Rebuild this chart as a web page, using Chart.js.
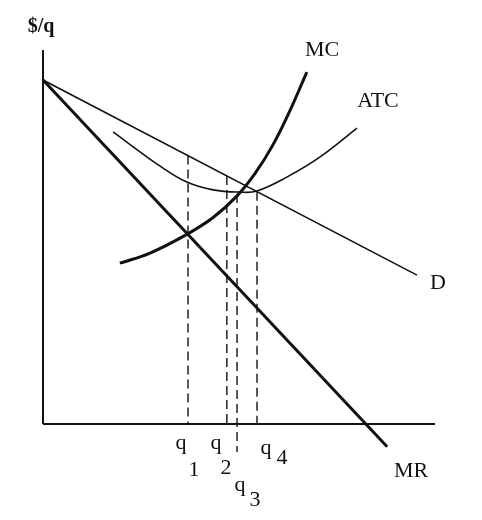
<!DOCTYPE html>
<html>
<head>
<meta charset="utf-8">
<script src="https://cdn.jsdelivr.net/npm/chart.js@4/dist/chart.umd.min.js"></script>
<style>
  html, body { margin: 0; padding: 0; background: #ffffff; }
  #wrap { width: 482px; height: 520px; }
</style>
</head>
<body>
<div id="wrap"><canvas id="chart" width="482" height="520"></canvas></div>
<script>
// Values (quantity on x, $/q on y, both 0..10)
const demandX = [0, 9.54]
const demandY = [9.20, 3.98]

const mrX = [0, 8.78]
const mrY = [9.20, -0.61]

const mcX = [1.96, 2.73, 3.67, 4.34, 4.95, 5.41, 5.87, 6.30, 6.73]
const mcY = [4.30, 4.57, 5.07, 5.52, 6.10, 6.70, 7.47, 8.38, 9.41]

const atcX = [1.79, 2.30, 2.98, 3.67, 4.34, 5.03, 5.46, 6.22, 7.07, 8.01]
const atcY = [7.81, 7.41, 6.90, 6.47, 6.26, 6.20, 6.23, 6.60, 7.14, 7.91]

// dashed guides: q1, q2, q3, q4
const guideX = [3.70, 4.69, 4.95, 5.46]
const guideTop = [7.18, 6.63, 6.15, 6.21]
const guideBottom = [0, 0, -0.75, 0]

const axisMax = 10

const toPoints = (xs, ys) => xs.map((x, i) => ({ x: x, y: ys[i] }))

const lineSet = (data, width, extra) => Object.assign({
  data: data,
  borderColor: "#111111",
  borderWidth: width,
  pointRadius: 0,
  fill: false,
  showLine: true,
  clip: false,
}, extra || {})

const datasets = [
  // axes
  lineSet([{ x: 0, y: 0 }, { x: 0, y: axisMax }], 2),
  lineSet([{ x: 0, y: 0 }, { x: axisMax, y: 0 }], 2),
  lineSet(toPoints(demandX, demandY), 1.6),
  lineSet(toPoints(mrX, mrY), 3),
  lineSet(toPoints(mcX, mcY), 3, { tension: 0.4 }),
  lineSet(toPoints(atcX, atcY), 1.6, { tension: 0.4 }),
]

guideX.forEach((x, i) => {
  datasets.push(lineSet([{ x: x, y: guideTop[i] }, { x: x, y: guideBottom[i] }], 1.4, { borderDash: [9, 5] }))
})

// text labels, placed in pixels
const labelPlugin = {
  id: "labels",
  afterDraw(chart) {
    const c = chart.ctx
    c.save()
    c.fillStyle = "#111111"
    c.textAlign = "center"
    c.textBaseline = "middle"
    c.font = "bold 20px 'Liberation Serif', 'DejaVu Serif', serif"
    c.fillText("$/q", 41, 27)
    c.font = "22px 'Liberation Serif', 'DejaVu Serif', serif"
    const items = [
      ["MC", 322, 50], ["ATC", 378, 101], ["D", 438, 283], ["MR", 411, 471],
      ["q", 181, 443], ["1", 194, 470],
      ["q", 216, 443], ["2", 226, 468],
      ["q", 240, 485], ["3", 255, 500],
      ["q", 266, 448], ["4", 282, 458],
    ]
    items.forEach(([t, x, y]) => c.fillText(t, x, y))
    c.restore()
  },
}

new Chart(document.getElementById("chart"), {
  type: "scatter",
  data: { datasets: datasets },
  options: {
    responsive: false,
    animation: false,
    layout: { padding: { left: 43, top: 50, right: 47, bottom: 96 } },
    plugins: { legend: { display: false }, tooltip: { enabled: false } },
    scales: {
      x: { type: "linear", min: 0, max: axisMax, display: false },
      y: { type: "linear", min: 0, max: axisMax, display: false },
    },
  },
  plugins: [labelPlugin],
})
</script>
</body>
</html>
